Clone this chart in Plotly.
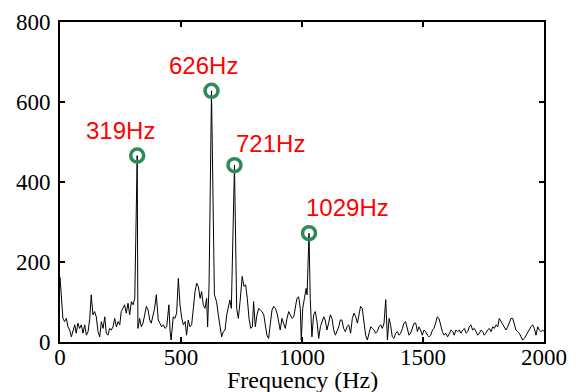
import plotly.graph_objects as go

# Spectrum (Hz, amplitude)
freq = [0, 12, 19, 26, 33, 40, 47, 54, 61, 67, 74, 81, 88, 95, 102, 109, 116, 123, 129, 136,
        143, 150, 157, 164, 171, 178, 185, 191, 198, 205, 212, 219, 226, 233, 240, 247, 253, 260,
        267, 274, 281, 288, 295, 302, 309, 319, 322, 329, 336, 343, 350, 357, 364, 371, 377, 384,
        391, 398, 406, 413, 420, 427, 434, 441, 450, 455, 459, 468, 475, 482, 489, 496, 503, 510,
        517, 523, 530, 537, 544, 551, 558, 565, 572, 579, 585, 592, 599, 606, 610, 616, 626, 638,
        647, 654, 661, 668, 675, 682, 689, 696, 702, 708, 721, 730, 737, 744, 753, 760, 767, 774,
        781, 788, 795, 800, 807, 814, 821, 828, 835, 842, 848, 855, 862, 869, 876, 883, 890, 897,
        904, 910, 917, 924, 931, 938, 945, 952, 959, 966, 972, 979, 986, 993, 997, 1003, 1010,
        1017, 1021, 1029, 1034, 1041, 1048, 1055, 1062, 1069, 1076, 1083, 1090, 1096, 1103, 1110,
        1117, 1124, 1131, 1138, 1145, 1152, 1158, 1165, 1172, 1179, 1186, 1193, 1201, 1208, 1215,
        1222, 1229, 1236, 1242, 1249, 1256, 1263, 1270, 1277, 1284, 1291, 1298, 1304, 1311, 1318,
        1325, 1332, 1339, 1346, 1353, 1360, 1366, 1373, 1380, 1387, 1394, 1401, 1408, 1415, 1421,
        1428, 1435, 1442, 1449, 1456, 1463, 1470, 1477, 1483, 1490, 1497, 1504, 1511, 1518, 1525,
        1532, 1539, 1545, 1552, 1559, 1566, 1573, 1580, 1587, 1594, 1602, 1609, 1616, 1623, 1629,
        1636, 1643, 1650, 1657, 1664, 1671, 1678, 1685, 1691, 1698, 1705, 1712, 1719, 1726, 1733,
        1740, 1747, 1753, 1760, 1767, 1774, 1781, 1788, 1795, 1802, 1809, 1815, 1822, 1829, 1836,
        1843, 1850, 1857, 1864, 1871, 1877, 1884, 1891, 1898, 1905, 1912, 1919, 1926, 1933, 1939,
        1946, 1953, 1960, 1967, 1974, 1981, 1988, 1995, 2000]
amplitude = [163, 59, 51, 59, 38, 30, 13, 26, 43, 22, 47, 34, 43, 22, 43, 17, 26, 59, 118, 68,
             76, 63, 26, 13, 51, 34, 63, 22, 17, 34, 30, 38, 59, 38, 51, 43, 76, 84,
             93, 72, 97, 68, 101, 93, 109, 466, 34, 59, 38, 47, 68, 89, 80, 55, 47, 63,
             84, 118, 55, 47, 38, 43, 34, 38, 93, 26, 5, 63, 59, 72, 159, 93, 59, 43,
             51, 17, 55, 38, 43, 84, 126, 147, 138, 109, 126, 93, 84, 109, 38, 143, 628, 118,
             101, 68, 34, 13, 26, 30, 68, 89, 105, 84, 442, 84, 59, 101, 164, 139, 143, 109,
             59, 34, 38, 101, 38, 68, 84, 80, 76, 68, 43, 17, 9, 51, 80, 89, 84, 72,
             43, 30, 59, 47, 34, 59, 76, 68, 59, 63, 84, 109, 113, 84, 5, 84, 109,
             134, 118, 272, 109, 13, 68, 76, 51, 9, 38, 51, 63, 55, 30, 47,
             68, 59, 30, 17, 26, 38, 55, 55, 34, 26, 38, 43, 22, 59, 72,
             63, 47, 76, 89, 84, 55, 17, 5, 26, 38, 34, 30, 22, 26, 38,
             43, 34, 47, 106, 5, 59, 43, 13, 9, 22, 26, 17, 22, 34, 47,
             51, 30, 17, 22, 34, 47, 47, 26, 38, 30, 17, 30, 26, 17, 13,
             17, 30, 34, 47, 63, 59, 38, 26, 17, 22, 13, 22, 30, 26, 17,
             30, 26, 30, 22, 30, 34, 22, 26, 38, 43, 30, 34, 26, 17, 22,
             30, 26, 17, 22, 30, 34, 26, 38, 34, 43, 38, 59, 51, 43, 38,
             30, 38, 51, 59, 59, 47, 30, 26, 22, 13, 5, 9, 17, 26, 30,
             38, 43, 34, 17, 38, 30, 26, 30, 26]

peak_freq = [319, 626, 721, 1029]
peak_amp = [466, 628, 442, 272]
peak_labels = ["319Hz", "626Hz", "721Hz", "1029Hz"]
label_dx = [-17, -8, 36, 38]
label_dy = [25, 25, 22, 26]

x_ticks = [0, 500, 1000, 1500, 2000]
y_ticks = [0, 200, 400, 600, 800]
x_title = "Frequency (Hz)"

serif = "Liberation Serif, Times New Roman"

fig = go.Figure()
fig.add_trace(go.Scatter(x=freq, y=amplitude, mode="lines",
                         line=dict(color="black", width=1), showlegend=False))
fig.add_trace(go.Scatter(x=peak_freq, y=peak_amp, mode="markers",
                         marker=dict(symbol="circle-open", size=13, color="#2e8b57",
                                     line=dict(width=3.5, color="#2e8b57")),
                         showlegend=False))

for fx, fy, t, dx, dy in zip(peak_freq, peak_amp, peak_labels, label_dx, label_dy):
    fig.add_annotation(x=fx, y=fy, text=t, showarrow=False, xshift=dx, yshift=dy,
                       font=dict(family="Liberation Sans, Arial", size=24, color="#ff0000"))

# x-axis title (placed as paper annotation just below the tick labels)
fig.add_annotation(x=0.5, y=0, xref="paper", yref="paper", xanchor="center", yanchor="top",
                   yshift=-23, showarrow=False, text=x_title,
                   font=dict(family=serif, size=24, color="black"))

axis_common = dict(showline=True, linecolor="black", linewidth=2, mirror="ticks",
                   ticks="inside", ticklen=5, tickwidth=1.5, tickcolor="black",
                   showgrid=False, zeroline=False, automargin=False,
                   tickfont=dict(family=serif, size=23, color="black"))

fig.update_xaxes(range=[0, 2000], tickvals=x_ticks, ticktext=[str(v) for v in x_ticks],
                 ticklabelstandoff=-7, **axis_common)
fig.update_yaxes(range=[0, 800], tickvals=y_ticks, ticktext=[str(v) for v in y_ticks],
                 ticklabelstandoff=3, **axis_common)

fig.update_layout(width=582, height=392, margin=dict(l=60, r=38, t=22, b=50),
                  paper_bgcolor="white", plot_bgcolor="white")

fig.write_html("out.html")
